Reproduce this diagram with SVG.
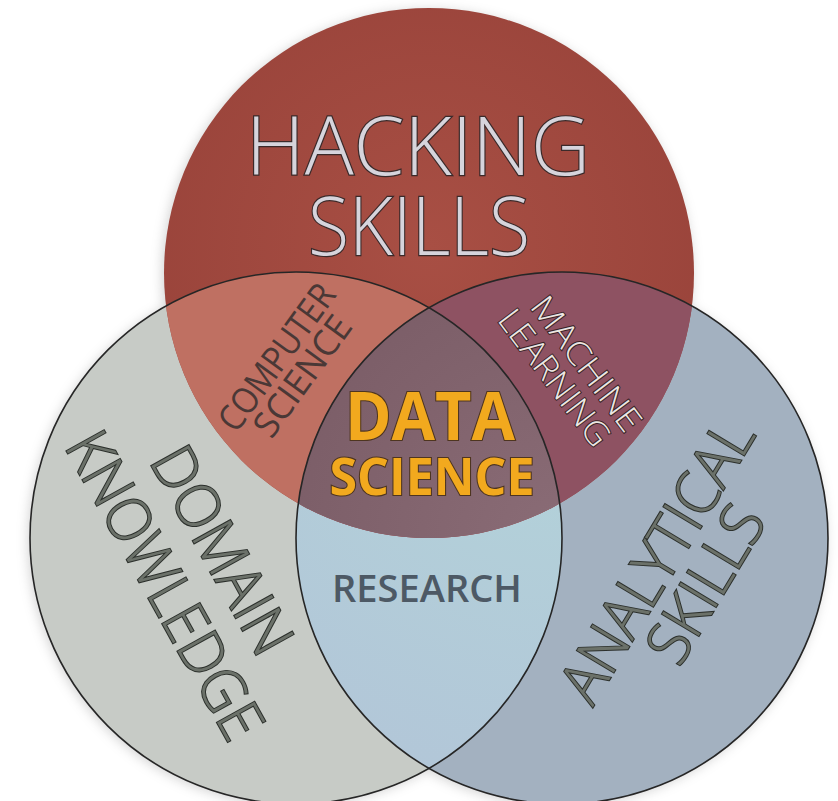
<svg xmlns="http://www.w3.org/2000/svg" width="838" height="801" viewBox="0 0 838 801">
  <defs>
    <clipPath id="clipRed"><circle cx="429" cy="273" r="265"/></clipPath>
    <clipPath id="clipLeft"><circle cx="296" cy="538" r="266"/></clipPath>
    <clipPath id="clipRight"><circle cx="562" cy="538" r="266"/></clipPath>
    <filter id="soft" x="-20%" y="-20%" width="140%" height="140%">
      <feGaussianBlur stdDeviation="6"/>
    </filter>
    <radialGradient id="gRed" cx="0.5" cy="0.45" r="0.55">
      <stop offset="0" stop-color="#a84f44"/>
      <stop offset="1" stop-color="#9a443b"/>
    </radialGradient>
    <radialGradient id="gResearch" cx="0.5" cy="0.1" r="0.9">
      <stop offset="0" stop-color="#b3d6da"/>
      <stop offset="1" stop-color="#b2c6d8"/>
    </radialGradient>
    <radialGradient id="gCenter" cx="0.5" cy="0.5" r="0.6">
      <stop offset="0" stop-color="#8a6c76"/>
      <stop offset="1" stop-color="#7a5c66"/>
    </radialGradient>
  </defs>
  <style>
    text { font-family: "Open Sans", "Liberation Sans", sans-serif; text-anchor: middle; }
    .big { font-weight: 300; fill: #d6d4dc; stroke: #3b2a2a; stroke-width: 2.4; paint-order: stroke; }
    .side { font-weight: 300; fill: #6b7169; stroke: #2c302c; stroke-width: 2; paint-order: stroke; }
    .core { font-weight: 700; fill: #f2a91e; stroke: #4e3520; stroke-width: 2.2; paint-order: stroke; }
    .cs { font-weight: 500; fill: #4a3836; }
    .ml { font-weight: 300; fill: #ece6e2; stroke: #3a2428; stroke-width: 2; paint-order: stroke; }
    .res { font-weight: 600; fill: #4d5965; }
    .ring { fill: none; stroke: #262626; stroke-width: 1.6; }
  </style>

  <rect width="838" height="801" fill="#ffffff"/>

  <!-- soft halo under the three sets -->
  <g filter="url(#soft)" opacity="0.35" fill="#808080">
    <circle cx="427" cy="275" r="265"/>
    <circle cx="294" cy="540" r="266"/>
    <circle cx="560" cy="540" r="266"/>
  </g>

  <!-- set: domain knowledge -->
  <g id="domain-knowledge">
    <circle cx="296" cy="538" r="266" fill="#c7cbc6"/>
  </g>

  <!-- set: analytical skills -->
  <g id="analytical-skills">
    <circle cx="562" cy="538" r="266" fill="#a3b1c0"/>
  </g>

  <!-- set: hacking skills -->
  <g id="hacking-skills">
    <circle cx="429" cy="273" r="265" fill="url(#gRed)"/>
  </g>

  <!-- overlap: research (domain + analytical) -->
  <g id="research">
    <g clip-path="url(#clipLeft)">
      <circle cx="562" cy="538" r="266" fill="url(#gResearch)"/>
    </g>
  </g>

  <!-- overlap: computer science (hacking + domain) -->
  <g id="computer-science">
    <g clip-path="url(#clipRed)">
      <circle cx="296" cy="538" r="266" fill="#bf7062"/>
    </g>
  </g>

  <!-- overlap: machine learning (hacking + analytical) -->
  <g id="machine-learning">
    <g clip-path="url(#clipRed)">
      <circle cx="562" cy="538" r="266" fill="#8e5262"/>
    </g>
  </g>

  <!-- overlap: data science (all three) -->
  <g id="data-science">
    <g clip-path="url(#clipRed)">
      <g clip-path="url(#clipLeft)">
        <circle cx="562" cy="538" r="266" fill="url(#gCenter)"/>
      </g>
    </g>
  </g>

  <!-- outlines of the two lower sets -->
  <g id="outlines">
    <circle class="ring" cx="296" cy="538" r="266"/>
    <circle class="ring" cx="562" cy="538" r="266"/>
  </g>

  <!-- labels -->
  <g id="labels">
    <text class="big" x="418" y="175" font-size="81" textLength="344" lengthAdjust="spacingAndGlyphs">HACKING</text>
    <text class="big" x="419" y="255" font-size="81" textLength="222" lengthAdjust="spacingAndGlyphs">SKILLS</text>

    <g transform="translate(290,367) rotate(-54)">
      <text class="cs" x="0" y="-4" font-size="36" textLength="172" lengthAdjust="spacingAndGlyphs">COMPUTER</text>
      <text class="cs" x="0" y="28" font-size="36" textLength="140" lengthAdjust="spacingAndGlyphs">SCIENCE</text>
    </g>

    <g transform="translate(570,371) rotate(53)">
      <text class="ml" x="4" y="-6" font-size="33" textLength="160" lengthAdjust="spacingAndGlyphs">MACHINE</text>
      <text class="ml" x="-4" y="28" font-size="33" textLength="162" lengthAdjust="spacingAndGlyphs">LEARNING</text>
    </g>

    <text class="core" x="430" y="440" font-size="66" textLength="170" lengthAdjust="spacingAndGlyphs">DATA</text>
    <text class="core" x="432" y="495" font-size="52" textLength="205" lengthAdjust="spacingAndGlyphs">SCIENCE</text>

    <text class="res" x="427" y="602" font-size="38" textLength="190" lengthAdjust="spacingAndGlyphs">RESEARCH</text>

    <g transform="translate(192,568) rotate(61)">
      <text class="side" x="-1" y="-14" font-size="60" textLength="228" lengthAdjust="spacingAndGlyphs">DOMAIN</text>
      <text class="side" x="2" y="53" font-size="60" textLength="342" lengthAdjust="spacingAndGlyphs">KNOWLEDGE</text>
    </g>

    <g transform="translate(680,572) rotate(-59)">
      <text class="side" x="-2" y="-5" font-size="60" textLength="318" lengthAdjust="spacingAndGlyphs">ANALYTICAL</text>
      <text class="side" x="3" y="49" font-size="60" textLength="172" lengthAdjust="spacingAndGlyphs">SKILLS</text>
    </g>
  </g>
</svg>
